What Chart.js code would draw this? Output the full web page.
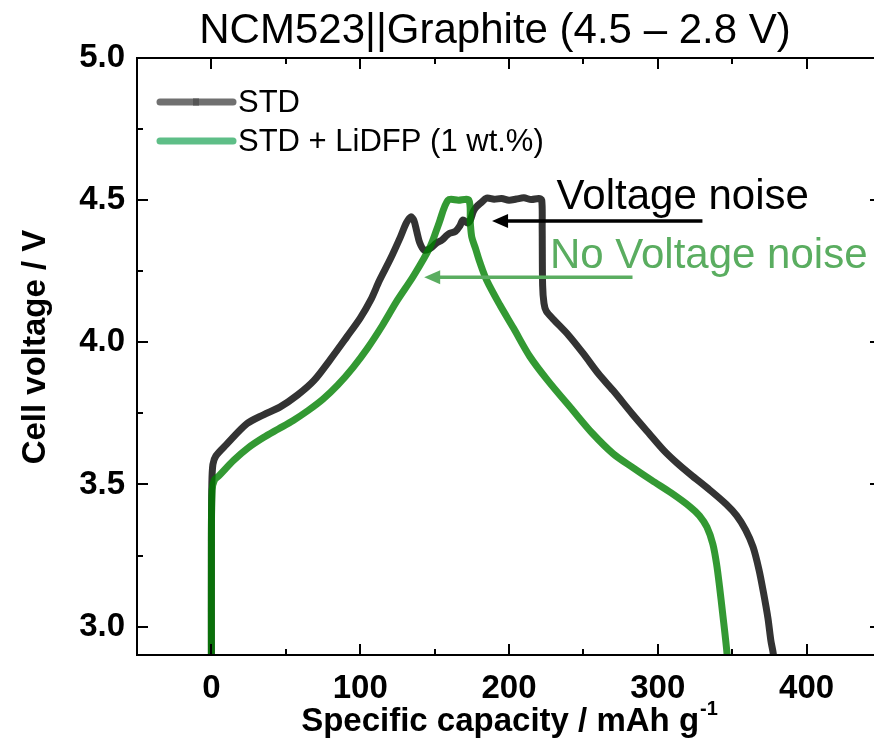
<!DOCTYPE html>
<html>
<head>
<meta charset="utf-8">
<script src="https://cdn.jsdelivr.net/npm/chart.js@4.4.1/dist/chart.umd.min.js"></script>
<style>
html,body{margin:0;padding:0;background:#fff;overflow:hidden;}
#wrap{width:884px;height:744px;}
</style>
</head>
<body>
<div id="wrap"><canvas id="cellChart" width="884" height="744"></canvas></div>
<script>
document.addEventListener("DOMContentLoaded", function(){

// ================================
// DATA
// ================================

const seriesNames = ['STD', 'STD + LiDFP (1 wt.%)'];

const stdCap = [0, 0, 0.3, 1, 3, 10, 24, 35, 46, 58,
  69, 80, 91, 100, 107, 113, 120, 127, 131, 134,
  136, 138, 140, 143, 147, 151, 155, 158, 160, 164,
  167, 169, 172, 174, 176, 178, 181, 185, 190, 195,
  200, 205, 210, 215, 220, 222, 222.3, 222.6, 223.5, 225,
  230, 240, 250, 260, 270, 283, 294, 304, 313, 322,
  335, 346, 353, 359, 364, 368, 371, 374, 376, 377.7, 378.5];

const stdVolt = [2.8, 3.3, 3.5, 3.57, 3.6, 3.64, 3.714, 3.745, 3.772, 3.815,
  3.866, 3.94, 4.019, 4.085, 4.148, 4.218, 4.29, 4.37, 4.42, 4.441,
  4.43, 4.39, 4.35, 4.324, 4.33, 4.348, 4.36, 4.375, 4.383, 4.39,
  4.41, 4.43, 4.42, 4.43, 4.46, 4.476, 4.49, 4.507, 4.503, 4.506,
  4.5, 4.504, 4.508, 4.502, 4.506, 4.5, 4.4, 4.2, 4.137, 4.11,
  4.08, 4.025, 3.96, 3.89, 3.83, 3.747, 3.68, 3.62, 3.575, 3.535,
  3.48, 3.43, 3.39, 3.34, 3.28, 3.2, 3.12, 3.03, 2.95, 2.9, 2.8];

const lidfpCap = [0, 0, 0.5, 2, 5, 15, 25, 35, 45, 55,
  65, 75, 85, 95, 105, 115, 125, 136, 147, 153,
  159, 166, 173, 174, 175, 177.5, 180.5, 185, 194, 203,
  214, 226, 243, 256, 270, 283, 296, 309, 322, 328,
  333, 337, 339.5, 341.5, 343.5, 346.6, 347.5];

const lidfpVolt = [2.8, 3.3, 3.48, 3.515, 3.53, 3.585, 3.63, 3.665, 3.695, 3.725,
  3.76, 3.8, 3.85, 3.91, 3.98, 4.06, 4.148, 4.235, 4.336, 4.42,
  4.5, 4.5, 4.5, 4.42, 4.37, 4.33, 4.28, 4.218, 4.13, 4.05,
  3.95, 3.866, 3.76, 3.68, 3.608, 3.56, 3.514, 3.47, 3.42, 3.39,
  3.35, 3.29, 3.22, 3.14, 3.05, 2.9, 2.8];

const xTickVals = [0, 100, 200, 300, 400];
const xMinorVals = [50, 150, 250, 350];
const yTickVals = [3.0, 3.5, 4.0, 4.5, 5.0];
const yMinorVals = [3.25, 3.75, 4.25, 4.75];

// annotation arrows: [fromCap, toCap, voltage]
const noiseArrow = [330, 188.6, 4.427];
const cleanArrow = [283, 143, 4.229];


// ================================
// STYLE
// ================================

const FONT = '"Liberation Sans", Arial, sans-serif';
const stdColor = '#333333';
const lidfpColor = 'rgba(0,128,0,0.8)';


const toPoints = (xs, ys) => xs.map((v, i) => ({x: v, y: ys[i]}));


// ================================
// DECORATION PLUGIN (frame, inward ticks, titles, legend, notes)
// ================================

const decor = {

id: 'decor',

afterDraw(chart){

const ctx = chart.ctx;
const a = chart.chartArea;
const xs = chart.scales.x;
const ys = chart.scales.y;

ctx.save();

// frame
ctx.strokeStyle = '#000';
ctx.lineWidth = 2;
ctx.strokeRect(a.left, a.top, a.right - a.left, a.bottom - a.top);

// ticks on all four sides, pointing in
function xTick(v, len){
  const px = Math.round(xs.getPixelForValue(v));
  ctx.beginPath();
  ctx.moveTo(px, a.bottom); ctx.lineTo(px, a.bottom - len);
  ctx.moveTo(px, a.top); ctx.lineTo(px, a.top + len);
  ctx.stroke();
}
function yTick(v, len){
  const py = Math.round(ys.getPixelForValue(v));
  ctx.beginPath();
  ctx.moveTo(a.left, py); ctx.lineTo(a.left + len, py);
  ctx.moveTo(a.right, py); ctx.lineTo(a.right - len, py);
  ctx.stroke();
}
xTickVals.forEach(v => xTick(v, 11));
xMinorVals.forEach(v => xTick(v, 6));
yTickVals.forEach(v => yTick(v, 11));
yMinorVals.forEach(v => yTick(v, 6));

// chart title
ctx.fillStyle = '#000';
ctx.font = '42px ' + FONT;
ctx.textAlign = 'center';
ctx.textBaseline = 'alphabetic';
ctx.fillText('NCM523||Graphite (4.5 \u2013 2.8 V)', 495, 43);

// x axis title with superscript
ctx.font = 'bold 33px ' + FONT;
const main = 'Specific capacity / mAh g';
const wMain = ctx.measureText(main).width;
ctx.font = 'bold 20px ' + FONT;
const wSup = ctx.measureText('-1').width;
const startX = (a.left + 881) / 2 - (wMain + wSup) / 2;
ctx.textAlign = 'left';
ctx.font = 'bold 33px ' + FONT;
ctx.fillText(main, startX, 731);
ctx.font = 'bold 20px ' + FONT;
ctx.fillText('-1', startX + wMain + 1, 715);

// y axis title
ctx.save();
ctx.translate(36, 347);
ctx.rotate(-Math.PI / 2);
ctx.font = 'bold 33px ' + FONT;
ctx.textAlign = 'center';
ctx.textBaseline = 'middle';
ctx.fillText('Cell voltage / V', 0, 0);
ctx.restore();

// legend
const legendColors = ['#707070', '#5ebe87'];
const legendY = [102, 141];
ctx.lineCap = 'round';
ctx.lineWidth = 7;
ctx.font = '31px ' + FONT;
ctx.textAlign = 'left';
ctx.textBaseline = 'middle';
seriesNames.forEach((name, i) => {
  ctx.strokeStyle = legendColors[i];
  ctx.beginPath();
  ctx.moveTo(160, legendY[i]);
  ctx.lineTo(233, legendY[i]);
  ctx.stroke();
  if(i === 0){
    ctx.fillStyle = '#555';
    ctx.fillRect(193, legendY[i] - 3.5, 6, 7);
  }
  ctx.fillStyle = '#000';
  ctx.fillText(name, 238, legendY[i] + 1);
});

// arrows
function arrow(spec, color){
  const x1 = xs.getPixelForValue(spec[0]);
  const x2 = xs.getPixelForValue(spec[1]);
  const py = ys.getPixelForValue(spec[2]);
  ctx.strokeStyle = color;
  ctx.fillStyle = color;
  ctx.lineCap = 'butt';
  ctx.lineWidth = 3.5;
  ctx.beginPath();
  ctx.moveTo(x1, py);
  ctx.lineTo(x2 + 12, py);
  ctx.stroke();
  ctx.beginPath();
  ctx.moveTo(x2, py);
  ctx.lineTo(x2 + 16, py - 7);
  ctx.lineTo(x2 + 16, py + 7);
  ctx.closePath();
  ctx.fill();
}
arrow(noiseArrow, '#000');
arrow(cleanArrow, '#5aad60');

// notes
ctx.font = '42px ' + FONT;
ctx.textAlign = 'left';
ctx.textBaseline = 'alphabetic';
ctx.fillStyle = '#000';
ctx.fillText('Voltage noise', xs.getPixelForValue(232), ys.getPixelForValue(4.468));
ctx.fillStyle = '#5aad60';
ctx.fillText('No Voltage noise', xs.getPixelForValue(227.5), ys.getPixelForValue(4.26));

ctx.restore();

}

};


// ================================
// CELL VOLTAGE CHART
// ================================

const cellChart = document.getElementById('cellChart');

if(cellChart){

new Chart(cellChart, {

type: 'line',

data: {

datasets: [{
  label: seriesNames[0],
  data: toPoints(stdCap, stdVolt),
  borderColor: stdColor,
  borderWidth: 7,
  pointRadius: 0,
  tension: 0.3,
  borderJoinStyle: 'round',
  borderCapStyle: 'round',
  order: 2
}, {
  label: seriesNames[1],
  data: toPoints(lidfpCap, lidfpVolt),
  borderColor: lidfpColor,
  borderWidth: 7,
  pointRadius: 0,
  tension: 0.3,
  borderJoinStyle: 'round',
  borderCapStyle: 'round',
  order: 1
}]

},

options: {

responsive: false,
animation: false,
devicePixelRatio: 1,

layout: {
  padding: {top: 58, right: 3, left: 0, bottom: 0}
},

plugins: {
  legend: {display: false},
  title: {display: false},
  tooltip: {enabled: false}
},

scales: {

x: {
  type: 'linear',
  min: -50,
  max: 450,
  grid: {display: false, drawTicks: false},
  border: {display: false},
  ticks: {
    color: '#000',
    padding: 14,
    font: {family: FONT, size: 33, weight: 'bold'}
  },
  afterBuildTicks: s => { s.ticks = xTickVals.map(v => ({value: v})); },
  afterFit: s => { s.height = 89; }
},

y: {
  type: 'linear',
  min: 2.9,
  max: 5.0,
  grid: {display: false, drawTicks: false},
  border: {display: false},
  ticks: {
    color: '#000',
    padding: 12,
    font: {family: FONT, size: 33, weight: 'bold'},
    callback: v => Number(v).toFixed(1)
  },
  afterBuildTicks: s => { s.ticks = yTickVals.map(v => ({value: v})); },
  afterFit: s => { s.width = 137; }
}

}

},

plugins: [decor]

});

}

});
</script>
</body>
</html>
